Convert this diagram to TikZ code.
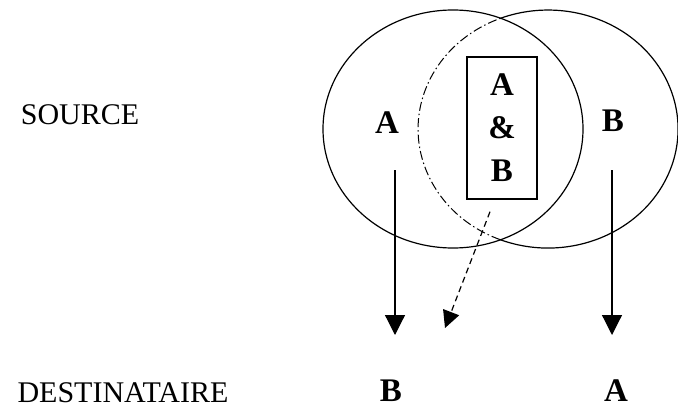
\documentclass[tikz,border=0pt]{standalone}
\usepackage{fontspec}
\setmainfont{Liberation Serif}
\usetikzlibrary{positioning,arrows.meta}

\begin{document}
\begin{tikzpicture}[x=1pt,y=-1pt,
  caption/.style={
    font=\fontsize{30}{30}\selectfont,
    inner sep=0pt
  },
  letter/.style={
    font=\fontsize{33}{43}\selectfont\bfseries,
    inner sep=0pt
  },
  flow/.style={
    -{Triangle[length=20pt,width=20pt]},
    line width=1.2pt
  }
]
\useasboundingbox (0,0) rectangle (678,412);
% The two sets, the hidden part of B is drawn dash-dotted.
  \draw[line width=1.2pt] (453,129) ellipse [x radius=130, y radius=119];
  \draw[line width=1.2pt] (500,239.6)
    arc[start angle=111.7, end angle=-111.7, x radius=130, y radius=119];
  \draw[line width=1pt, dash pattern=on 9pt off 3pt on 1.5pt off 3pt] (500,239.6)
    arc[start angle=111.7, end angle=248.3, x radius=130, y radius=119];
\node[caption] (source) at (80,115) {SOURCE};
  \node[caption] (dest) at (123,393) {DESTINATAIRE};
  \node[letter] (srcA) at (387,123) {A};
  \node[letter] (srcB) at (613,121) {B};
  \node[letter, draw, line width=1.4pt, minimum width=70pt, minimum height=142pt,
    align=center] (inter) at (502,128) {A\\\&\\B};
  \node[letter] (dstB) at (391,391) {B};
  \node[letter] (dstA) at (616,391) {A};
  \coordinate (leftTop) at (395,170);
  \coordinate (leftEnd) at (395,335);
  \coordinate (rightTop) at (612,170);
  \coordinate (rightEnd) at (612,335);
  \coordinate (interEnd) at (445,328);
  \draw[flow] (leftTop) -- (leftEnd);
  \draw[flow] (rightTop) -- (rightEnd);
  \draw[line width=1.2pt, dash pattern=on 6pt off 4pt,
    -{Triangle[length=17pt,width=17pt]}] ([shift={(-12,12)}]inter.south) -- (interEnd);
\end{tikzpicture}
\end{document}
